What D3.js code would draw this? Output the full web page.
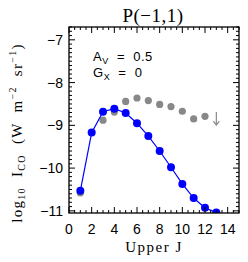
<!DOCTYPE html>
<html><head><meta charset="utf-8">
<script src="https://cdn.jsdelivr.net/npm/d3@7"></script>
<style>body{margin:0;background:#fff}svg{display:block}text{white-space:pre}</style>
</head><body>
<script>
const title = "P(\u22121,1)";
const upperJ = [1,2,3,4,5,6,7,8,9,10,11,12,13];
const modelI = [-10.53,-9.17,-8.68,-8.61,-8.71,-8.95,-9.25,-9.6,-9.98,-10.37,-10.7,-10.93,-11.04];
const obsJ = [1,2,3,4,5,6,7,8,9,10,11,12];
const obsI = [-10.58,-9.17,-8.88,-8.69,-8.44,-8.36,-8.42,-8.51,-8.56,-8.67,-8.85,-8.79];
const limitJ = [13];
const limitI = [-8.83];
const xTicks = [0,2,4,6,8,10,12,14];
const yTicks = [-11,-10,-9,-8,-7];

const W=248,H=262;
const m={l:69,r:239,t:27,b:213};
const svg=d3.select("body").append("svg").attr("width",W).attr("height",H);
const x=d3.scaleLinear().domain([0,15]).range([m.l,m.r]);
const y=d3.scaleLinear().domain([-11.05,-6.7]).range([m.b,m.t]);

const defs=svg.append("defs");
defs.append("clipPath").attr("id","c").append("rect").attr("x",m.l).attr("y",m.t).attr("width",m.r-m.l).attr("height",m.b-m.t);

const g=svg.append("g").attr("clip-path","url(#c)");
g.selectAll(".o").data(obsJ).enter().append("circle")
 .attr("cx",(d)=>x(d)).attr("cy",(d,i)=>y(obsI[i])).attr("r",3.6).attr("fill","#888");
limitJ.forEach((j,i)=>{
  const xx=x(j), y0=y(limitI[i]);
  g.append("line").attr("x1",xx).attr("x2",xx).attr("y1",y0-6).attr("y2",y0+7).attr("stroke","#888").attr("stroke-width",1.2);
  g.append("path").attr("d",`M${xx-3},${y0+3}L${xx},${y0+7}L${xx+3},${y0+3}`).attr("fill","none").attr("stroke","#888").attr("stroke-width",1.2);
});
const line=d3.line().x((d)=>x(d[0])).y((d)=>y(d[1]));
g.append("path").datum(upperJ.map((j,i)=>[j,modelI[i]])).attr("d",line).attr("fill","none").attr("stroke","#0000ff").attr("stroke-width",1.2);
g.selectAll(".m").data(upperJ).enter().append("circle")
 .attr("cx",(d)=>x(d)).attr("cy",(d,i)=>y(modelI[i])).attr("r",4).attr("fill","#0000ff");

svg.append("rect").attr("x",m.l).attr("y",m.t).attr("width",m.r-m.l).attr("height",m.b-m.t).attr("fill","none").attr("stroke","#000").attr("stroke-width",1.3);

const tk=svg.append("g").attr("stroke","#000").attr("stroke-width",1);
d3.range(0,15.01,0.5).forEach(v=>{
  const major = Math.abs(v/2-Math.round(v/2))<1e-6;
  const L = major?6:3;
  tk.append("line").attr("x1",x(v)).attr("x2",x(v)).attr("y1",m.b).attr("y2",m.b-L);
  tk.append("line").attr("x1",x(v)).attr("x2",x(v)).attr("y1",m.t).attr("y2",m.t+L);
});
d3.range(-11,-6.69,0.1).forEach(v=>{
  const major = Math.abs(v-Math.round(v))<1e-6;
  const L = major?6:3;
  tk.append("line").attr("x1",m.l).attr("x2",m.l+L).attr("y1",y(v)).attr("y2",y(v));
  tk.append("line").attr("x1",m.r).attr("x2",m.r-L).attr("y1",y(v)).attr("y2",y(v));
});

const sans="'Liberation Sans', Arial, sans-serif";
const serif="'Liberation Serif','DejaVu Serif', serif";
svg.selectAll(".xt").data(xTicks).enter().append("text")
 .attr("x",d=>x(d)).attr("y",234).attr("text-anchor","middle")
 .attr("font-family",sans).attr("font-size",14).text(d=>d);
svg.selectAll(".yt").data(yTicks).enter().append("text")
 .attr("x",m.l-6).attr("y",d=>y(d)+5).attr("text-anchor","end")
 .attr("font-family",sans).attr("font-size",14).text(d=>"\u2212"+Math.abs(d));

svg.append("text").attr("x",153).attr("y",22).attr("text-anchor","middle")
 .attr("font-family",serif).attr("font-size",19).attr("letter-spacing",0.5).text(title);

svg.append("text").attr("x",154).attr("y",252).attr("text-anchor","middle")
 .attr("font-family",serif).attr("font-size",15).attr("letter-spacing",1.5).text("Upper J");

const a1=svg.append("text").attr("x",93).attr("y",61).attr("font-family",sans).attr("font-size",13).attr("letter-spacing",0.5);
a1.append("tspan").text("A");
a1.append("tspan").attr("font-size",9).attr("dy",3).text("V");
a1.append("tspan").attr("dy",-3).text("  =  0.5");
const a2=svg.append("text").attr("x",93).attr("y",77).attr("font-family",sans).attr("font-size",13).attr("letter-spacing",0.5);
a2.append("tspan").text("G");
a2.append("tspan").attr("font-size",9).attr("dy",3).text("X");
a2.append("tspan").attr("dy",-3).text("  =  0");

const yl=svg.append("text").attr("transform","translate(22,133) rotate(-90)").attr("text-anchor","middle")
 .attr("font-family",serif).attr("font-size",15).attr("letter-spacing",1.3);
yl.append("tspan").text("log");
yl.append("tspan").attr("font-size",10).attr("dy",3).text("10");
yl.append("tspan").attr("dy",-3).text("  I");
yl.append("tspan").attr("font-size",10).attr("dy",3).text("CO");
yl.append("tspan").attr("dy",-3).text("  (W  m");
yl.append("tspan").attr("font-size",10).attr("dy",-6).text("\u22122");
yl.append("tspan").attr("dy",6).text("  sr");
yl.append("tspan").attr("font-size",10).attr("dy",-6).text("\u22121");
yl.append("tspan").attr("dy",6).text(")");
</script>
</body></html>
